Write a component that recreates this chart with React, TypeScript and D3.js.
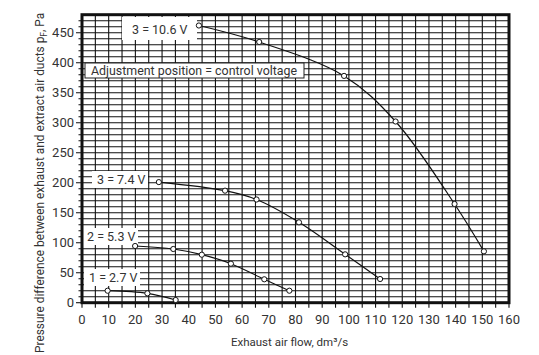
import React from "react";
import * as d3 from "d3";

const flowTicks = d3.range(0, 161, 10);
const pressureTicks = d3.range(0, 451, 50);

const curve106x = [43.8, 66.4, 98.2, 117.5, 139.6, 150.6];
const curve106y = [462, 434.5, 378, 302, 164.5, 85.6];
const curve74x = [28.8, 53.6, 65.4, 81.3, 98.6, 111.7];
const curve74y = [201, 186.7, 172, 134, 80.6, 39.5];
const curve53x = [19.9, 34.2, 44.9, 55.8, 68.3, 77.7];
const curve53y = [94.5, 89.5, 80, 65, 39, 20];
const curve27x = [9.6, 24.5, 35.1];
const curve27y = [20, 15.6, 4.5];

const seriesNames = ["3 = 10.6 V", "3 = 7.4 V", "2 = 5.3 V", "1 = 2.7 V"];
const legendText = "Adjustment position = control voltage";

const W = 539;
const H = 355;

export default function App() {
  const x = d3.scaleLinear().domain([0, 160]).range([82, 509]);
  const y = d3.scaleLinear().domain([0, 480]).range([302.7, 14.7]);
  const line = d3
    .line<[number, number]>()
    .x((d) => x(d[0]))
    .y((d) => y(d[1]))
    .curve(d3.curveCatmullRom.alpha(0.5));

  const series = [
    { name: seriesNames[0], xs: curve106x, ys: curve106y },
    { name: seriesNames[1], xs: curve74x, ys: curve74y },
    { name: seriesNames[2], xs: curve53x, ys: curve53y },
    { name: seriesNames[3], xs: curve27x, ys: curve27y },
  ].map((s) => ({ ...s, pts: s.xs.map((v, i) => [v, s.ys[i]] as [number, number]) }));

  // label boxes (pixel layout)
  const labelBoxes = [
    { x0: 122, y0: 17, x1: 197, y1: 40, tx: 132, ty: 30 },
    { x0: 92, y0: 171, x1: 148, y1: 188, tx: 97, ty: 179.5 },
    { x0: 83, y0: 228, x1: 138, y1: 245, tx: 87, ty: 237 },
    { x0: 84, y0: 269, x1: 140, y1: 286, tx: 89, ty: 278 },
  ];

  const vGrid = d3.range(5, 160, 5);
  const hGrid = d3.range(10, 480, 10);
  const font = "Roboto, 'Liberation Sans', sans-serif";
  const txtColor = "#333";

  return (
    <svg
      width={W}
      height={H}
      style={{ position: "absolute", left: 0, top: 0, background: "#fff" }}
      fontFamily={font}
    >
      <rect x={0} y={0} width={W} height={H} fill="#fff" />
      {/* grid */}
      <g stroke="#111" strokeWidth={1.1}>
        {vGrid.map((v) => (
          <line key={"v" + v} x1={x(v)} x2={x(v)} y1={y(480)} y2={y(0) + 5} />
        ))}
        {hGrid.map((v) => (
          <line key={"h" + v} x1={x(0) - (v % 50 === 0 ? 6 : 3.5)} x2={x(160)} y1={y(v)} y2={y(v)} />
        ))}
        <line x1={x(0) - 6} x2={x(0)} y1={y(0)} y2={y(0)} />
        <line x1={x(0)} x2={x(0)} y1={y(0)} y2={y(0) + 5} />
        <line x1={x(160)} x2={x(160)} y1={y(0)} y2={y(0) + 5} />
      </g>
      {/* label backgrounds */}
      {labelBoxes.map((b, i) => (
        <rect key={"lb" + i} x={b.x0} y={b.y0} width={b.x1 - b.x0} height={b.y1 - b.y0} fill="#fff" />
      ))}
      <rect x={85} y={63} width={219} height={15} fill="#fff" stroke="#222" strokeWidth={1} />
      {/* frame */}
      <rect
        x={x(0)}
        y={y(480)}
        width={x(160) - x(0)}
        height={y(0) - y(480)}
        fill="none"
        stroke="#111"
        strokeWidth={3}
      />
      {/* curves */}
      {series.map((s) => (
        <g key={s.name}>
          <path d={line(s.pts) || ""} fill="none" stroke="#111" strokeWidth={1.2} />
          {s.pts.map((p, i) => (
            <circle key={i} cx={x(p[0])} cy={y(p[1])} r={2.6} fill="#fff" stroke="#111" strokeWidth={1} />
          ))}
        </g>
      ))}
      {/* labels */}
      {series.map((s, i) => (
        <text
          key={"t" + i}
          x={labelBoxes[i].tx}
          y={labelBoxes[i].ty}
          dy="0.35em"
          fontSize={12.5}
          fill={txtColor}
        >
          {s.name}
        </text>
      ))}
      <text x={91} y={70.5} dy="0.35em" fontSize={12.4} fill={txtColor}>
        {legendText}
      </text>
      {/* tick labels */}
      {flowTicks.map((t) => (
        <text key={"xt" + t} x={x(t)} y={319} dy="0.35em" textAnchor="middle" fontSize={13} fill={txtColor}>
          {t}
        </text>
      ))}
      {pressureTicks.map((t) => (
        <text key={"yt" + t} x={74} y={y(t)} dy="0.35em" textAnchor="end" fontSize={13} fill={txtColor}>
          {t}
        </text>
      ))}
      {/* axis titles */}
      <text x={289.5} y={342} dy="0.35em" textAnchor="middle" fontSize={11.5} fill={txtColor}>
        Exhaust air flow, dm³/s
      </text>
      <text
        transform={`translate(44, 353) rotate(-90)`}
        x={0}
        y={0}
        fontSize={11.9}
        fill={txtColor}
      >
        Pressure difference between exhaust and extract air ducts p
        <tspan fontSize={8.5} dy={3}>F</tspan>
        <tspan dy={-3}>, Pa</tspan>
      </text>
    </svg>
  );
}
